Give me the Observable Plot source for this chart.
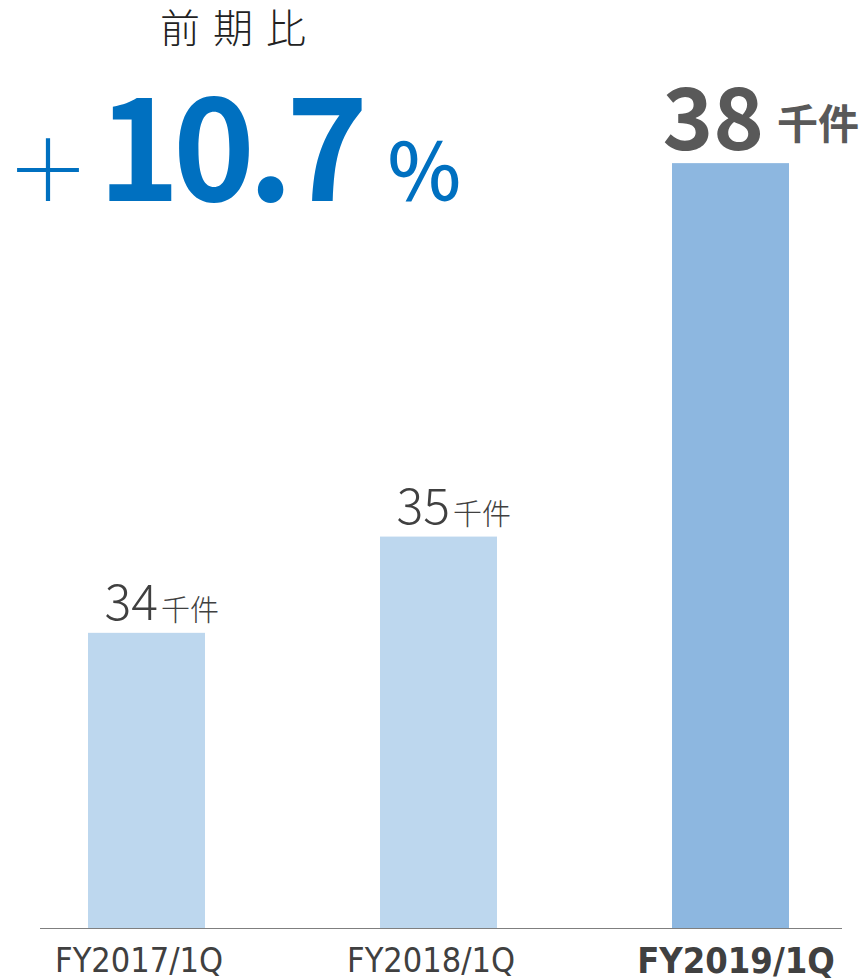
<!DOCTYPE html>
<html><head><meta charset="utf-8">
<script src="https://cdn.jsdelivr.net/npm/d3@7"></script>
<script src="https://cdn.jsdelivr.net/npm/@observablehq/plot@0.6"></script>
<style>
body{margin:0;background:#fff;}
#wrap{position:relative;width:863px;height:980px;overflow:hidden;}
#chart{position:absolute;left:0;top:0;}
.head{position:absolute;font-family:"Noto Sans CJK JP",sans-serif;white-space:nowrap;line-height:1;}
</style></head><body>
<div id="wrap">
<div id="chart"></div>
<div class="head" id="sub" style="left:160px;top:6px;font-size:40px;font-weight:300;color:#222;letter-spacing:13px;"></div>
<div class="head" id="big" style="left:6px;top:71px;color:#0070C0;"></div>
</div>
<script>
// data (thousand cases)
const periods = ["FY2017/1Q", "FY2018/1Q", "FY2019/1Q"];
const values = [34.3, 35.05, 37.96];
const highlight = [false, false, true];
const unit = "千件";
const changeTitle = "前期比";
const changePct = 10.7;
const baseValue = 32;

const data = periods.map((p, i) => ({period: p, value: values[i], label: String(Math.round(values[i])), hi: highlight[i]}));
const normal = data.filter(d => !d.hi);
const hi = data.filter(d => d.hi);

document.getElementById("sub").textContent = changeTitle;
document.getElementById("big").innerHTML =
  '<span style="font-size:84px;font-weight:300;">＋</span><span style="font-size:139px;font-weight:bold;letter-spacing:-7px;margin-left:8px;">' + changePct.toFixed(1) +
  '</span><span style="font-size:78px;font-weight:500;margin-left:24px;">％</span>';

const numFont = "Noto Sans CJK JP, sans-serif";
const axFont = "Liberation Sans Narrow, DejaVu Sans Condensed, sans-serif";

const chart = Plot.plot({
  width: 863, height: 980,
  marginLeft: 40, marginRight: 21, marginTop: 0, marginBottom: 52,
  x: {domain: periods, range: [0, 876], paddingInner: 0.6, paddingOuter: 0.3, axis: null},
  y: {domain: [baseValue, 38], range: [928, 158], axis: null},
  color: {type: "identity"},
  style: {background: "transparent"},
  marks: [
    Plot.barY(data, {x: "period", y1: d => baseValue, y2: "value", fill: d => d.hi ? "#8DB7E0" : "#BDD7EE"}),
    Plot.ruleY([baseValue], {stroke: "#7f7f7f", strokeWidth: 1.2}),
    Plot.text(normal, {x: "period", y: "value", text: "label", textAnchor: "end", lineAnchor: "bottom", dx: 11, dy: -13, fontSize: 50, fontWeight: 300, fill: "#404040", fontFamily: numFont}),
    Plot.text(normal, {x: "period", y: "value", text: d => unit, textAnchor: "start", lineAnchor: "bottom", dx: 14, dy: -12, fontSize: 29, fontWeight: 300, fill: "#404040", fontFamily: numFont}),
    Plot.text(hi, {x: "period", y: "value", text: "label", textAnchor: "end", lineAnchor: "bottom", dx: 33, dy: -14, fontSize: 86, fontWeight: "bold", fill: "#595959", fontFamily: numFont}),
    Plot.text(hi, {x: "period", y: "value", text: d => unit, textAnchor: "start", lineAnchor: "bottom", dx: 46, dy: -25, fontSize: 41, fontWeight: "bold", fill: "#595959", fontFamily: numFont}),
    Plot.text(normal, {x: "period", text: "period", frameAnchor: "bottom", lineAnchor: "middle", dx: -8, dy: 33, fontSize: 34, fill: "#404040", fontFamily: axFont}),
    Plot.text(hi, {x: "period", text: "period", frameAnchor: "bottom", lineAnchor: "middle", dx: 5, dy: 33, fontSize: 36, fontWeight: "bold", fill: "#404040", fontFamily: axFont})
  ]
});
document.getElementById("chart").appendChild(chart);
</script>
</body></html>
